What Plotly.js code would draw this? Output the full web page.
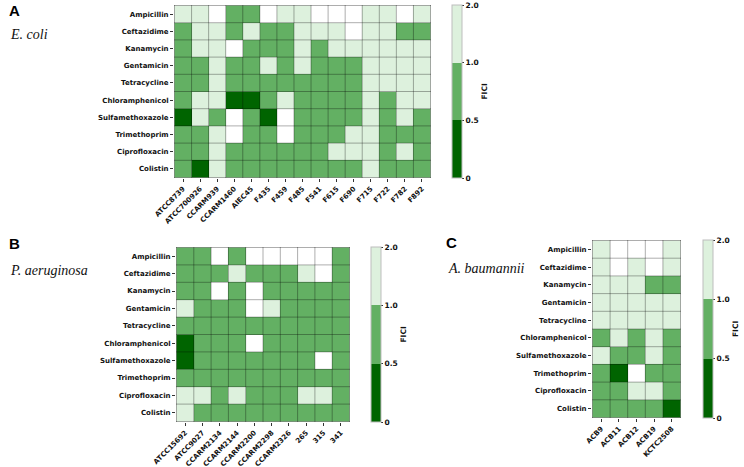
<!DOCTYPE html>
<html>
<head>
<meta charset="utf-8">
<script src="https://cdn.plot.ly/plotly-3.0.1.min.js"></script>
<style>
  html, body { margin: 0; padding: 0; background: #ffffff; }
  #chart { width: 744px; height: 467px; }
</style>
</head>
<body>
<div id="chart"></div>
<script>
// Antibiotic combinations tested (rows, top to bottom)
const drugs = ['Ampicillin', 'Ceftazidime', 'Kanamycin', 'Gentamicin', 'Tetracycline',
  'Chloramphenicol', 'Sulfamethoxazole', 'Trimethoprim', 'Ciprofloxacin', 'Colistin'];

// Strains per species
const ecoliStrains = ['ATCC8739', 'ATCC700926', 'CCARM939', 'CCARM1460', 'AIEC45', 'F435', 'F459',
  'F485', 'F541', 'F615', 'F690', 'F715', 'F722', 'F782', 'F892'];
const paerStrains = ['ATCC15692', 'ATCC9027', 'CCARM2134', 'CCARM2144', 'CCARM2200', 'CCARM2298',
  'CCARM2326', '265', '315', '341'];
const abauStrains = ['ACB9', 'ACB11', 'ACB12', 'ACB19', 'KCTC2508'];

// FICI per drug (row) and strain (column); values above 2 are left blank (white)
const ecoliFICI = [
  [1.5, 1.5, 4, 0.75, 0.75, 4, 1.5, 1.5, 4, 4, 4, 1.5, 1.5, 4, 1.5],
  [0.75, 1.5, 1.5, 0.75, 1.5, 0.75, 0.75, 1.5, 1.5, 1.5, 4, 1.5, 1.5, 0.75, 0.75],
  [0.75, 1.5, 1.5, 4, 0.75, 0.75, 0.75, 1.5, 0.75, 1.5, 1.5, 1.5, 1.5, 1.5, 1.5],
  [0.75, 0.75, 1.5, 0.75, 0.75, 1.5, 0.75, 1.5, 0.75, 0.75, 0.75, 1.5, 1.5, 1.5, 1.5],
  [0.75, 0.75, 1.5, 0.75, 0.75, 0.75, 0.75, 0.75, 0.75, 0.75, 0.75, 1.5, 1.5, 1.5, 1.5],
  [0.75, 1.5, 1.5, 0.375, 0.375, 0.75, 1.5, 0.75, 0.75, 0.75, 0.75, 1.5, 0.75, 1.5, 1.5],
  [0.375, 1.5, 0.75, 4, 0.75, 0.375, 4, 0.75, 0.75, 0.75, 0.75, 1.5, 0.75, 1.5, 0.75],
  [0.75, 0.75, 1.5, 4, 0.75, 0.75, 4, 0.75, 0.75, 0.75, 1.5, 1.5, 0.75, 0.75, 0.75],
  [0.75, 0.75, 1.5, 0.75, 0.75, 0.75, 0.75, 0.75, 0.75, 1.5, 1.5, 1.5, 0.75, 1.5, 0.75],
  [0.75, 0.375, 1.5, 0.75, 0.75, 0.75, 0.75, 0.75, 0.75, 0.75, 0.75, 1.5, 0.75, 0.75, 0.75]
];
const paerFICI = [
  [0.75, 0.75, 4, 0.75, 4, 4, 4, 4, 4, 0.75],
  [0.75, 0.75, 0.75, 1.5, 0.75, 0.75, 0.75, 1.5, 4, 0.75],
  [0.75, 0.75, 4, 0.75, 4, 0.75, 0.75, 0.75, 0.75, 0.75],
  [1.5, 0.75, 0.75, 0.75, 4, 1.5, 0.75, 0.75, 0.75, 0.75],
  [0.75, 0.75, 0.75, 0.75, 0.75, 0.75, 0.75, 0.75, 0.75, 0.75],
  [0.375, 0.75, 0.75, 0.75, 4, 0.75, 0.75, 0.75, 0.75, 0.75],
  [0.375, 0.75, 0.75, 0.75, 0.75, 0.75, 0.75, 0.75, 4, 0.75],
  [0.75, 0.75, 0.75, 0.75, 0.75, 0.75, 0.75, 0.75, 0.75, 0.75],
  [1.5, 1.5, 0.75, 1.5, 0.75, 0.75, 0.75, 1.5, 1.5, 0.75],
  [1.5, 0.75, 0.75, 0.75, 0.75, 0.75, 0.75, 0.75, 0.75, 0.75]
];
const abauFICI = [
  [1.5, 4, 4, 4, 1.5],
  [1.5, 4, 1.5, 4, 1.5],
  [1.5, 1.5, 1.5, 0.75, 0.75],
  [1.5, 1.5, 1.5, 1.5, 1.5],
  [1.5, 1.5, 1.5, 1.5, 1.5],
  [0.75, 1.5, 0.75, 1.5, 0.75],
  [1.5, 0.75, 0.75, 1.5, 0.75],
  [0.75, 0.375, 4, 0.75, 0.75],
  [0.75, 0.75, 1.5, 1.5, 0.75],
  [0.75, 0.75, 0.75, 0.75, 0.375]
];

// Colour bar boundaries (FICI) and their labels
const ficiBounds = [0, 0.5, 1, 2];
const ficiLabels = ['0', '0.5', '1.0', '2.0'];

const W = 744, H = 467;
const DARK = '#006400', MID = '#63b063', LIGHT = '#ddf1dd';
const GRID = 'rgba(0,0,0,0.32)';

// Each FICI interval gets an equal share of the colour bar
function toBand(v) {
  if (v > ficiBounds[3]) return null;
  for (let i = 1; i < ficiBounds.length; i++) {
    if (v <= ficiBounds[i]) {
      return (i - 1) + (v - ficiBounds[i - 1]) / (ficiBounds[i] - ficiBounds[i - 1]);
    }
  }
  return null;
}
const bandMatrix = m => m.map(r => r.map(toBand));

const colorscale = [[0, DARK], [1 / 3, DARK], [1 / 3, MID], [2 / 3, MID], [2 / 3, LIGHT], [1, LIGHT]];

// pixel helpers
const px = x => x / W;
const py = y => 1 - y / H;

const panels = [
  { strains: ecoliStrains, fici: ecoliFICI, x0: 174, x1: 431, y0: 5, y1: 178, cbx: 452, cbw: 10 },
  { strains: paerStrains, fici: paerFICI, x0: 176, x1: 350, y0: 247, y1: 422, cbx: 371, cbw: 10 },
  { strains: abauStrains, fici: abauFICI, x0: 592, x1: 681, y0: 240, y1: 418, cbx: 703, cbw: 10 }
];

const tickFont = { family: 'DejaVu Sans', size: 7, color: '#111', weight: 'bold' };

const data = [];
const layout = {
  width: W, height: H,
  margin: { l: 0, r: 0, t: 0, b: 0 },
  paper_bgcolor: '#ffffff',
  plot_bgcolor: '#ffffff',
  showlegend: false,
  shapes: [],
  annotations: []
};

panels.forEach((p, k) => {
  const sfx = k === 0 ? '' : String(k + 1);
  const ca = 'coloraxis' + sfx;
  data.push({
    type: 'heatmap',
    x: p.strains,
    y: drugs,
    z: bandMatrix(p.fici),
    xaxis: 'x' + sfx,
    yaxis: 'y' + sfx,
    coloraxis: ca,
    hoverongaps: false
  });

  layout['xaxis' + sfx] = {
    domain: [px(p.x0), px(p.x1)],
    anchor: 'y' + sfx,
    type: 'category',
    tickangle: -45,
    tickfont: tickFont,
    ticks: 'outside', ticklen: 3, tickwidth: 1, tickcolor: '#333',
    showgrid: false, zeroline: false, showline: false,
    fixedrange: true
  };
  layout['yaxis' + sfx] = {
    domain: [py(p.y1), py(p.y0)],
    anchor: 'x' + sfx,
    type: 'category',
    autorange: 'reversed',
    tickfont: tickFont,
    ticks: 'outside', ticklen: 3, tickwidth: 1, tickcolor: '#333',
    showgrid: false, zeroline: false, showline: false,
    fixedrange: true
  };

  layout[ca] = {
    cmin: 0, cmax: 3,
    colorscale: colorscale,
    colorbar: {
      x: px(p.cbx), xanchor: 'left', xpad: 0,
      y: py((p.y0 + p.y1) / 2), yanchor: 'middle', ypad: 0,
      lenmode: 'pixels', len: p.y1 - p.y0,
      thicknessmode: 'pixels', thickness: p.cbw,
      outlinewidth: 1, outlinecolor: '#bdbdbd',
      tickmode: 'array',
      tickvals: [0, 1, 2, 3],
      ticktext: ficiLabels,
      ticks: 'outside', ticklen: 2, tickwidth: 1, tickcolor: '#333',
      tickfont: { family: 'DejaVu Sans', size: 7.5, color: '#111', weight: 'bold' }
    }
  };

  // FICI caption beside the colour bar
  layout.annotations.push({
    xref: 'paper', yref: 'paper',
    x: px(p.cbx + 32), y: py((p.y0 + p.y1) / 2),
    text: 'FICI', textangle: -90, showarrow: false,
    xanchor: 'center', yanchor: 'middle',
    font: { family: 'DejaVu Sans', size: 7.5, color: '#111', weight: 'bold' }
  });

  // cell borders
  const nx = p.strains.length, ny = drugs.length;
  for (let i = 0; i <= nx; i++) {
    layout.shapes.push({
      type: 'line', xref: 'x' + sfx, yref: 'y' + sfx + ' domain',
      x0: i - 0.5, x1: i - 0.5, y0: 0, y1: 1,
      line: { color: GRID, width: 1 }, layer: 'above'
    });
  }
  for (let j = 0; j <= ny; j++) {
    layout.shapes.push({
      type: 'line', xref: 'x' + sfx + ' domain', yref: 'y' + sfx,
      x0: 0, x1: 1, y0: j - 0.5, y1: j - 0.5,
      line: { color: GRID, width: 1 }, layer: 'above'
    });
  }
});

// Panel letters and species names
const letterFont = { family: 'Liberation Sans', size: 15, color: '#000', weight: 'bold' };
const speciesFont = { family: 'Liberation Serif', size: 14, color: '#111', style: 'italic' };
[
  { t: 'A', x: 7, y: 11, f: letterFont },
  { t: 'B', x: 7, y: 243, f: letterFont },
  { t: 'C', x: 444, y: 242, f: letterFont },
  { t: 'E. coli', x: 8, y: 34, f: speciesFont },
  { t: 'P. aeruginosa', x: 8, y: 270, f: speciesFont },
  { t: 'A. baumannii', x: 446, y: 268, f: speciesFont }
].forEach(a => {
  layout.annotations.push({
    xref: 'paper', yref: 'paper', x: px(a.x), y: py(a.y),
    xanchor: 'left', yanchor: 'middle', showarrow: false,
    text: a.t, font: a.f
  });
});

Plotly.newPlot('chart', data, layout, { displayModeBar: false, staticPlot: true });
</script>
</body>
</html>
